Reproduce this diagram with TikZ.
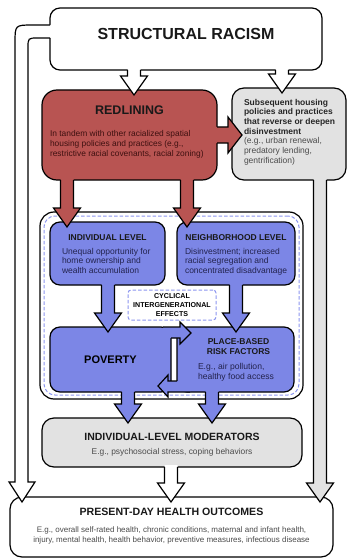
\documentclass[tikz,border=0pt]{standalone}
\usepackage{fontspec}
\setmainfont{Liberation Sans}
\usepackage{tikz}
\usetikzlibrary{positioning}
\usetikzlibrary{calc}
\usepackage{xcolor}

\definecolor{redfill}{RGB}{184,84,82}
\definecolor{redtext}{RGB}{62,16,16}
\definecolor{bluefill}{RGB}{124,134,230}
\definecolor{bluetext}{RGB}{35,35,78}
\definecolor{dashblue}{RGB}{140,150,240}
\definecolor{grayfill}{RGB}{226,226,226}
\definecolor{textgray}{RGB}{75,75,75}

\tikzset{
    outline/.style={draw=black, line width=1.2pt},
    panel/.style={outline, rounded corners=10pt, inner sep=0pt, outer sep=0pt, anchor=north west},
    txt/.style={inner sep=0pt, outer sep=0pt, text=black!90},
    dashline/.style={draw=dashblue, line width=1pt, dash pattern=on 3.5pt off 2pt}
}

\newcommand{\fsz}[2]{\fontsize{#1}{#2}\selectfont}

% block arrow going down from one box into the next
\newcommand{\blockdown}[4]{%
    \path (#3,0 |- #1.south) coordinate (bs)
          (#3,0 |- #2.north) coordinate (bt);
    \fill[#4] ($(bs)+(-6.5,-2)$) -- ($(bt)+(-6.5,-14)$) -- ++(-7,0) -- ($(bt)+(0,5)$)
        -- ($(bt)+(13.5,-14)$) -- ++(-7,0) -- ($(bs)+(6.5,-2)$) -- cycle;
    \draw[outline] ($(bs)+(-6.5,0)$) -- ($(bt)+(-6.5,-14)$) -- ++(-7,0) -- ($(bt)+(0,5)$)
        -- ($(bt)+(13.5,-14)$) -- ++(-7,0) -- ($(bs)+(6.5,0)$);
}

\begin{document}
\begin{tikzpicture}[x=1pt, y=-1pt]
    \useasboundingbox (0,0) rectangle (348,559);

    % outcomes
    \node[panel, fill=white, rounded corners=12pt, minimum width=323pt, minimum height=60pt] (present) at (10,497) {};
    \node[txt, font=\fsz{10.6}{12}\bfseries, below=11pt of present.north] (presenttitle) {PRESENT-DAY HEALTH OUTCOMES};
    \node[txt, font=\fsz{8}{9.5}, text=textgray, align=center, below=30pt of present.north] (presenttext)
        {E.g., overall self-rated health, chronic conditions, maternal and infant health,\\injury, mental health, health behavior, preventive measures, infectious disease};

    % moderators
    \node[panel, fill=grayfill, rounded corners=12pt, minimum width=260pt, minimum height=49pt] (moderators) at (42,418) {};
    \node[txt, font=\fsz{10.5}{12}\bfseries, below=15pt of moderators.north] (modtitle) {INDIVIDUAL-LEVEL MODERATORS};
    \node[txt, font=\fsz{8.4}{10}, text=textgray, below=30pt of moderators.north] (modtext) {E.g., psychosocial stress, coping behaviors};
    \blockdown{moderators}{present}{171}{white}

    % cyclical container
    \node[panel, fill=white, rounded corners=14pt, minimum width=263pt, minimum height=187pt] (container) at (40,212) {};
    \node[panel, dashline, rounded corners=11pt, minimum width=255pt, minimum height=179pt] (containerdash) at (44,216) {};

    \node[panel, fill=bluefill, minimum width=115pt, minimum height=63pt] (indiv) at (50,222) {};
    \node[txt, font=\fsz{8.5}{10}\bfseries, below=13pt of indiv.north] (indivtitle) {INDIVIDUAL LEVEL};
    \node[txt, font=\fsz{8.5}{9.6}, text=bluetext, align=left, below right=26pt and 12pt of indiv.north west] (indivtext)
        {Unequal opportunity for\\home ownership and\\wealth accumulation};

    \node[panel, fill=bluefill, minimum width=118pt, minimum height=63pt] (neigh) at (177,222) {};
    \node[txt, font=\fsz{8.5}{10}\bfseries, below=13pt of neigh.north] (neightitle) {NEIGHBORHOOD LEVEL};
    \node[txt, font=\fsz{8.5}{9.6}, text=bluetext, align=left, below right=26pt and 8pt of neigh.north west] (neightext)
        {Disinvestment; increased\\racial segregation and\\concentrated disadvantage};

    \node[panel, dashline, fill=white, rounded corners=3pt, minimum width=88pt, minimum height=30pt,
        align=center, font=\fsz{7.1}{8.6}\bfseries] (cyclical) at (128,290) {CYCLICAL\\INTERGENERATIONAL\\EFFECTS};

    \node[panel, fill=bluefill, minimum width=121pt, minimum height=65pt, font=\fsz{11}{13}\bfseries] (poverty) at (50,327) {POVERTY};
    \node[panel, fill=bluefill, minimum width=117pt, minimum height=65pt] (place) at (177,327) {};
    \node[txt, font=\fsz{8.5}{10}\bfseries, align=center, below=12pt of place.north, xshift=3pt] (placetitle) {PLACE-BASED\\RISK FACTORS};
    \node[txt, font=\fsz{8.6}{10}, text=bluetext, align=left, below right=36pt and 21pt of place.north west] (placetext)
        {E.g., air pollution,\\healthy food access};

    \blockdown{indiv}{poverty}{108}{bluefill}
    \blockdown{neigh}{place}{236}{bluefill}
    \blockdown{poverty}{moderators}{128}{bluefill}
    \blockdown{place}{moderators}{212}{bluefill}

    % poverty <-> place based risk factors
    \fill[bluefill] ($(poverty.north east)+(-8,0)$) -- ++(17,0) -- ++(0,-5) -- ++(11,11) -- ++(-11,11) -- ++(0,-6) -- ++(-17,0) -- cycle;
    \draw[outline] ($(poverty.north east)+(-8,0)$) -- ++(17,0) -- ++(0,-5) -- ++(11,11) -- ++(-11,11) -- ++(0,-6) -- ++(-9,0);
    \fill[bluefill] ($(poverty.south east)+(19,0)$) -- ++(-22,0) -- ++(0,5) -- ++(-10,-11) -- ++(10,-11) -- ++(0,6) -- ++(22,0) -- cycle;
    \draw[outline] ($(poverty.south east)+(19,0)$) -- ++(-22,0) -- ++(0,5) -- ++(-10,-11) -- ++(10,-11) -- ++(0,6) -- ++(9,0);

    % subsequent housing policies
    \node[panel, fill=grayfill, rounded corners=12pt, minimum width=114pt, minimum height=92pt] (subseq) at (232,88) {};
    \node[txt, font=\fsz{8.5}{9.7}, text=black!85, align=left, below right=11pt and 12pt of subseq.north west] (subseqtext)
        {\textbf{Subsequent housing}\\\textbf{policies and practices}\\\textbf{that reverse or deepen}\\\textbf{disinvestment}\\
         \textcolor{textgray}{(e.g., urban renewal,}\\\textcolor{textgray}{predatory lending,}\\\textcolor{textgray}{gentrification)}};
    \blockdown{subseq}{present}{320}{grayfill}

    % redlining
    \node[panel, fill=redfill, rounded corners=15pt, minimum width=175pt, minimum height=90pt] (redline) at (42,90) {};
    \node[txt, font=\fsz{12.5}{14}\bfseries, below=15.5pt of redline.north] (redtitle) {REDLINING};
    \node[txt, font=\fsz{8.4}{10}, text=redtext, align=left, below right=40pt and 8pt of redline.north west] (redtext)
        {In tandem with other racialized spatial\\housing policies and practices (e.g.,\\restrictive racial covenants, racial zoning)};
    \blockdown{redline}{indiv}{67}{redfill}
    \blockdown{redline}{neigh}{187}{redfill}
    \fill[redfill] ($(redline.east)+(-2,-8)$) -- ++(13,0) -- ++(0,-10) -- ++(14,18) -- ++(-14,18) -- ++(0,-10) -- ++(-13,0) -- cycle;
    \draw[outline] ($(redline.east)+(0,-8)$) -- ++(11,0) -- ++(0,-10) -- ++(14,18) -- ++(-14,18) -- ++(0,-10) -- ++(-11,0);

    % structural racism
    \node[panel, fill=white, minimum width=272pt, minimum height=62pt] (structural) at (50,8) {};
    \node[txt, font=\fsz{16}{18}\bfseries, below=20pt of structural.north] (structitle) {STRUCTURAL RACISM};
    \blockdown{structural}{redline}{134}{white}
    \blockdown{structural}{subseq}{282}{white}
    \coordinate (lefttip) at ($(22,0 |- present.north)+(0,5)$);
    \fill[white] ($(structural.north west)+(2,17)$) -- (33,25) .. controls (15,25) .. (15,43) -- (15,482)
        -- ++(-6,0) -- (lefttip) -- (35,482) -- (28,482) -- (28,48) .. controls (28,38) .. (38,38)
        -- ($(structural.north west)+(2,30)$) -- cycle;
    \draw[outline] ($(structural.north west)+(0,17)$) -- (33,25) .. controls (15,25) .. (15,43) -- (15,482)
        -- ++(-6,0) -- (lefttip) -- (35,482) -- (28,482) -- (28,48) .. controls (28,38) .. (38,38)
        -- ($(structural.north west)+(0,30)$);
\end{tikzpicture}
\end{document}
